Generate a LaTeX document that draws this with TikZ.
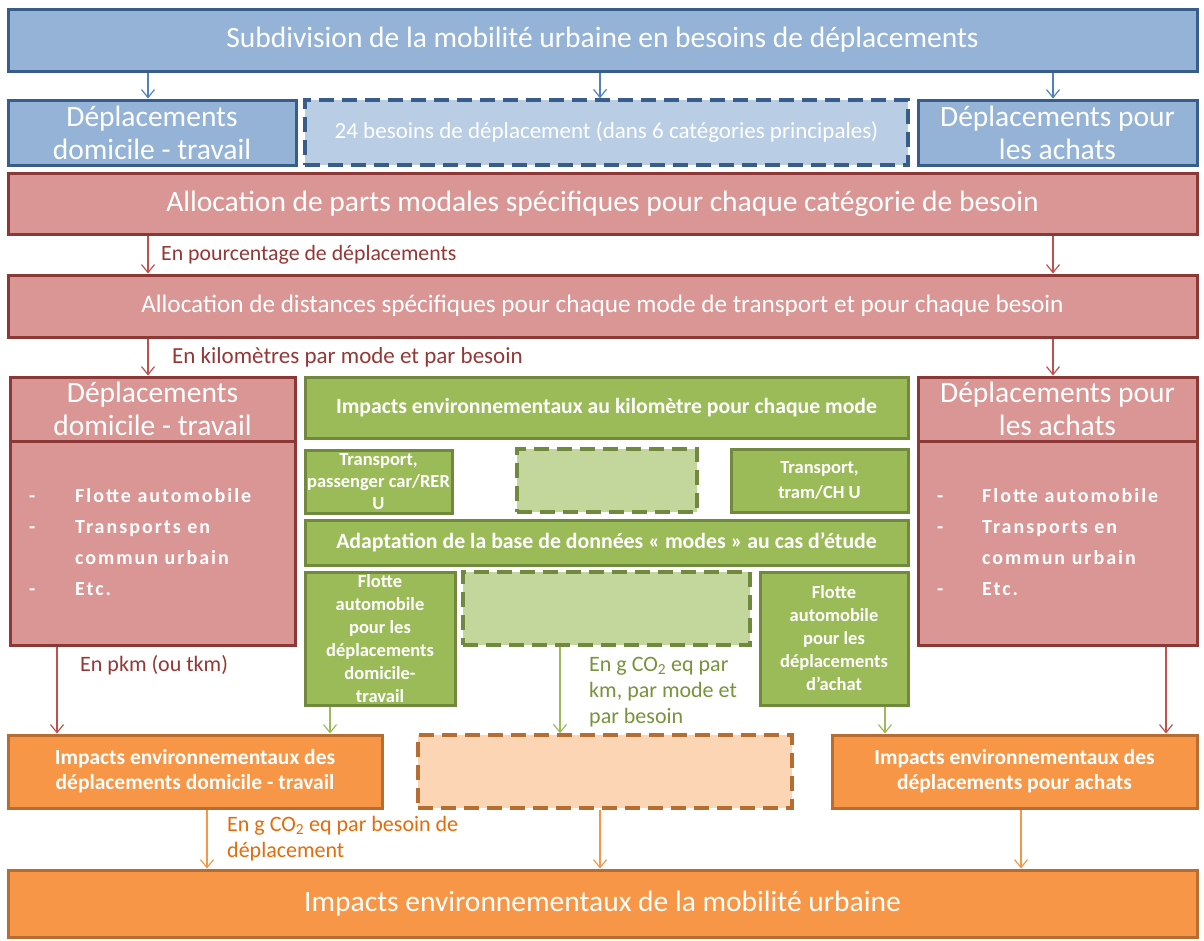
\documentclass[tikz,border=0pt]{standalone}
\usepackage{fontspec}
\setmainfont{Carlito}
\usetikzlibrary{arrows.meta,calc}
\definecolor{bfill}{HTML}{95B3D7}
\definecolor{bdraw}{HTML}{385D8A}
\definecolor{blight}{HTML}{B9CDE5}
\definecolor{barr}{HTML}{4F81BD}
\definecolor{rfill}{HTML}{D99694}
\definecolor{rdraw}{HTML}{8C3836}
\definecolor{rarr}{HTML}{C0504D}
\definecolor{rtext}{HTML}{953735}
\definecolor{gfill}{HTML}{9BBB59}
\definecolor{gdraw}{HTML}{71893F}
\definecolor{glight}{HTML}{C3D69B}
\definecolor{gtext}{HTML}{77933C}
\definecolor{ofill}{HTML}{F79646}
\definecolor{odraw}{HTML}{B66D31}
\definecolor{olight}{HTML}{FCD5B5}
\definecolor{otext}{HTML}{E46C0A}
\tikzset{
  fs/.style 2 args={font=\fontsize{#1}{#2}\selectfont},
  fsb/.style 2 args={font=\fontsize{#1}{#2}\selectfont\bfseries},
  box/.style={rectangle, line width=3pt, inner sep=1pt, align=center, text=white},
  bluebox/.style={box, fill=bfill, draw=bdraw},
  bluedash/.style={box, fill=blight, draw=bdraw, line width=3.5pt, dash pattern=on 15pt off 8pt},
  redbox/.style={box, fill=rfill, draw=rdraw},
  greenbox/.style={box, fill=gfill, draw=gdraw},
  greendash/.style={box, fill=glight, draw=gdraw, line width=3.5pt, dash pattern=on 15pt off 8pt},
  orangebox/.style={box, fill=ofill, draw=odraw},
  orangedash/.style={box, fill=olight, draw=odraw, line width=3.5pt, dash pattern=on 15pt off 8pt},
  arr/.style={line width=1.2pt, -{Straight Barb[length=8pt,width=13pt]}},
  lab/.style={inner sep=0pt, align=left, anchor=west},
}
\begin{document}
\begin{tikzpicture}[x=1pt,y=-1pt]
\fill[white] (0,0) rectangle (1204,940);
\useasboundingbox (0,0) rectangle (1204,940);

% top row
\node[bluebox, fs={29.5}{33}, minimum width=1189pt, minimum height=62pt] (top) at (602.5,40) {Subdivision de la mobilité urbaine en besoins de déplacements};
\node[bluebox, fs={29.5}{33}, minimum width=288pt, minimum height=65pt] (b1) at (152,132.5) {Déplacements\\ domicile - travail};
\node[bluedash, fs={23}{26}, minimum width=603pt, minimum height=65pt] (b2) at (606.5,132.5) {24 besoins de déplacement (dans 6 catégories principales)};
\node[bluebox, fs={29.5}{33}, minimum width=279pt, minimum height=65pt] (b3) at (1057.5,132.5) {Déplacements pour\\ les achats};

% red rows
\node[redbox, fs={29.5}{33}, minimum width=1189pt, minimum height=61pt] (r1) at (602.5,203.5) {Allocation de parts modales spécifiques pour chaque catégorie de besoin};
\node[redbox, fs={25.2}{28}, minimum width=1189pt, minimum height=62pt] (r2) at (602.5,306) {Allocation de distances spécifiques pour chaque mode de transport et pour chaque besoin};

% side red boxes
\node[redbox, minimum width=285pt, minimum height=204pt] (rlb) at (152.5,543) {};
\node[redbox, fs={29.5}{33}, minimum width=285pt, minimum height=64pt] (rlh) at (152.5,409) {Déplacements\\ domicile - travail};
\node[lab, text=white, fsb={20}{31}] (rll) at (29,543) {\addfontfeature{LetterSpace=10}\begin{tabular}{@{}p{46pt}@{}l@{}}-&Flotte automobile\\ -&Transports en\\ &commun urbain\\ -&Etc.\end{tabular}};
\node[redbox, minimum width=279pt, minimum height=204pt] (rrb) at (1057.5,543) {};
\node[redbox, fs={29.5}{33}, minimum width=279pt, minimum height=64pt] (rrh) at (1057.5,409) {Déplacements pour\\ les achats};
\node[lab, text=white, fsb={20}{31}] (rrl) at (937,543) {\addfontfeature{LetterSpace=10}\begin{tabular}{@{}p{45pt}@{}l@{}}-&Flotte automobile\\ -&Transports en\\ &commun urbain\\ -&Etc.\end{tabular}};

% green boxes
\node[greenbox, fsb={21.7}{25}, minimum width=603pt, minimum height=61pt] (g1) at (606.5,407.5) {Impacts environnementaux au kilomètre pour chaque mode};
\node[greenbox, fsb={18.5}{22}, minimum width=147pt, minimum height=63pt] (g2) at (378.5,482) {Transport,\\ passenger car/RER\\ U};
\node[greendash, minimum width=180pt, minimum height=63pt] (g3) at (607,480.5) {};
\node[greenbox, fsb={18.5}{25}, minimum width=177pt, minimum height=63pt] (g4) at (819.5,480.5) {Transport,\\ tram/CH U};
\node[greenbox, fsb={21.8}{25}, minimum width=603pt, minimum height=45pt] (g5) at (606.5,542.5) {Adaptation de la base de données « modes » au cas d’étude};
\node[greenbox, fsb={18.5}{23}, minimum width=150pt, minimum height=133pt] (g6) at (380,638.5) {Flotte\\ automobile\\ pour les\\ déplacements\\ domicile-\\ travail};
\node[greendash, minimum width=287pt, minimum height=73pt] (g7) at (606.5,608.5) {};
\node[greenbox, fsb={18.5}{23}, minimum width=148pt, minimum height=133pt] (g8) at (834,638.5) {Flotte\\ automobile\\ pour les\\ déplacements\\ d’achat};

% orange boxes
\node[orangebox, fsb={21.5}{25}, minimum width=374pt, minimum height=73pt] (o1) at (195,771.5) {Impacts environnementaux des\\ déplacements domicile - travail};
\node[orangedash, minimum width=374pt, minimum height=73pt] (o2) at (605,771.5) {};
\node[orangebox, fsb={21.5}{25}, minimum width=365pt, minimum height=73pt] (o3) at (1014.5,771.5) {Impacts environnementaux des\\ déplacements pour achats};
\node[orangebox, fs={29.5}{33}, minimum width=1189pt, minimum height=67pt] (o4) at (602.5,903.5) {Impacts environnementaux de la mobilité urbaine};

% labels
\node[lab, text=rtext, fs={21.8}{25}] (l1) at (161,255) {En pourcentage de déplacements};
\node[lab, text=rtext, fs={23}{26}] (l2) at (172,357) {En kilomètres par mode et par besoin};
\node[lab, text=rtext, fs={22}{26}] (l3) at (80,665) {En pkm (ou tkm)};
\node[lab, text=gtext, fs={22}{26}] (l4) at (589,692) {En g CO\textsubscript{2} eq par\\ km, par mode et\\ par besoin};
\node[lab, text=otext, fs={22}{26}] (l5) at (227,839) {En g CO\textsubscript{2} eq par besoin de\\ déplacement};

% x positions for connectors
\coordinate (xa) at (148,0);
\coordinate (xb) at (600,0);
\coordinate (xc) at (1053,0);
\coordinate (xd) at (57,0);
\coordinate (xe) at (330,0);
\coordinate (xf) at (560,0);
\coordinate (xg) at (885,0);
\coordinate (xh) at (1166,0);
\coordinate (xi) at (207,0);
\coordinate (xj) at (1021,0);

% connectors
\draw[arr, barr] (top.south -| xa) -- (b1.north -| xa);
\draw[arr, barr] (top.south -| xb) -- (b2.north -| xb);
\draw[arr, barr] (top.south -| xc) -- (b3.north -| xc);
\draw[arr, rarr] (r1.south -| xa) -- (r2.north -| xa);
\draw[arr, rarr] (r1.south -| xc) -- (r2.north -| xc);
\draw[arr, rarr] (r2.south -| xa) -- (rlh.north -| xa);
\draw[arr, rarr] (r2.south -| xc) -- (rrh.north -| xc);
\draw[arr, rarr] (rlb.south -| xd) -- (o1.north -| xd);
\draw[arr, gfill] (g6.south -| xe) -- (o1.north -| xe);
\draw[arr, gfill] (g7.south -| xf) -- (o2.north -| xf);
\draw[arr, gfill] (g8.south -| xg) -- (o3.north -| xg);
\draw[arr, rarr] (rrb.south -| xh) -- (o3.north -| xh);
\draw[arr, ofill] (o1.south -| xi) -- (o4.north -| xi);
\draw[arr, ofill] (o2.south -| xb) -- (o4.north -| xb);
\draw[arr, ofill] (o3.south -| xj) -- (o4.north -| xj);
\end{tikzpicture}
\end{document}
